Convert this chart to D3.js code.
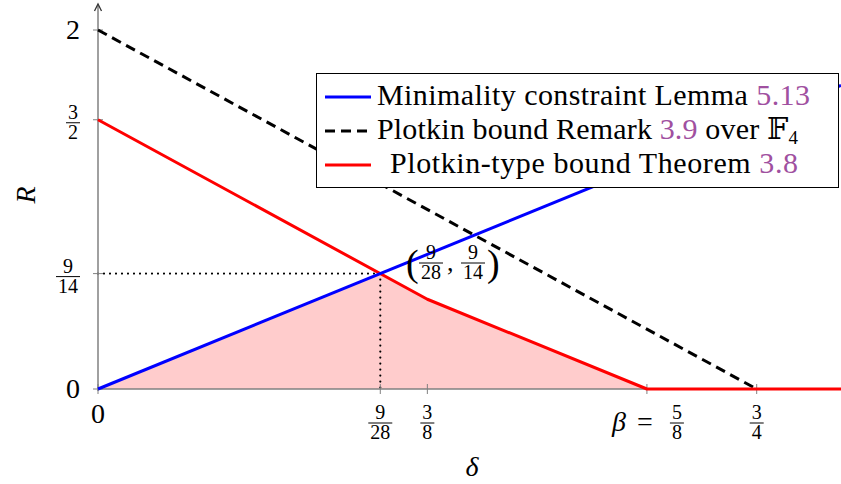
<!DOCTYPE html>
<html>
<head>
<meta charset="utf-8">
<script src="https://cdn.jsdelivr.net/npm/d3@7"></script>
<style>
  body { margin: 0; background: #fff; }
  text { font-family: "Liberation Serif", "DejaVu Serif", serif; fill: #000; }
</style>
</head>
<body>
<div id="chart"></div>
<script>

// data
var deltaMax = 0.846;
var minimality = [[0, 0], [0.846, 1.692]];               // R = 2 delta
var plotkinF4 = [[0, 2], [0.75, 0]];                      // R = 2 - 8/3 delta
var plotkinType = [[0, 1.5], [0.375, 0.5], [0.625, 0], [0.846, 0]];
var feasible = [[0, 0], [9/28, 9/14], [0.375, 0.5], [0.625, 0]];
var xTicks = [0, 9/28, 3/8, 5/8, 3/4];
var xTickLabels = [["0"], ["9", "28"], ["3", "8"], ["5", "8", "β"], ["3", "4"]];
var yTicks = [0, 9/14, 3/2, 2];
var yTickLabels = [["0"], ["9", "14"], ["3", "2"], ["2"]];
var legendNames = [
  ["Minimality constraint Lemma ", "5.13", ""],
  ["Plotkin bound Remark ", "3.9", " over 𝔽"],
  ["Plotkin-type bound Theorem ", "3.8", ""]
];
var legendColors = ["#0000ff", "#000000", "#ff0000"];
var legendStart = [377, 377, 390];
var legendWidth = [433, 421, 408];
var intersect = [9/28, 9/14];

var W = 841, H = 484;
var svg = d3.select("#chart").append("svg")
  .attr("width", W).attr("height", H);

var x = d3.scaleLinear().domain([0, deltaMax]).range([98, 841]);
var y = d3.scaleLinear().domain([0, 2]).range([389, 30]);

var line = d3.line().x(function(d) { return x(d[0]) }).y(function(d) { return y(d[1]) });

// fill
svg.append("path")
  .datum(feasible)
  .attr("fill", "#ffcccc")
  .attr("d", line);

// dotted guides
svg.append("line")
  .attr("x1", x(0)).attr("x2", x(intersect[0]))
  .attr("y1", y(intersect[1])).attr("y2", y(intersect[1]))
  .attr("stroke", "#000").attr("stroke-width", 2.2)
  .attr("stroke-dasharray", "0 6").attr("stroke-linecap", "round");
svg.append("line")
  .attr("x1", x(intersect[0])).attr("x2", x(intersect[0]))
  .attr("y1", y(intersect[1])).attr("y2", y(0))
  .attr("stroke", "#000").attr("stroke-width", 2.2)
  .attr("stroke-dasharray", "0 6").attr("stroke-linecap", "round");

// axes
var gray = "#808080";
svg.append("line")
  .attr("x1", x(0)).attr("x2", 841).attr("y1", y(0)).attr("y2", y(0))
  .attr("stroke", gray).attr("stroke-width", 1.5);
svg.append("line")
  .attr("x1", x(0)).attr("x2", x(0)).attr("y1", y(0) + 2).attr("y2", 6)
  .attr("stroke", gray).attr("stroke-width", 1.5);
svg.append("path")
  .attr("d", "M" + (x(0) - 3.5) + ",11 L" + x(0) + ",4 L" + (x(0) + 3.5) + ",11")
  .attr("fill", "none").attr("stroke", "#333").attr("stroke-width", 1.3);

function frac(g, cx, cy, num, den, fs) {
  var w = Math.max(num.length, den.length) * fs * 0.5 + 4;
  g.append("text").attr("x", cx).attr("y", cy - 4).attr("text-anchor", "middle")
    .attr("font-size", fs).text(num);
  g.append("line").attr("x1", cx - w / 2).attr("x2", cx + w / 2)
    .attr("y1", cy).attr("y2", cy).attr("stroke", "#000").attr("stroke-width", 1);
  g.append("text").attr("x", cx).attr("y", cy + fs * 0.72 + 2).attr("text-anchor", "middle")
    .attr("font-size", fs).text(den);
}

// x ticks
xTicks.forEach(function(t, i) {
  svg.append("line")
    .attr("x1", x(t)).attr("x2", x(t)).attr("y1", y(0) - 5).attr("y2", y(0) + 5)
    .attr("stroke", gray).attr("stroke-width", 1);
  var lab = xTickLabels[i];
  if (lab.length == 1) {
    svg.append("text").attr("x", x(t)).attr("y", 423).attr("text-anchor", "middle")
      .attr("font-size", 28).text(lab[0]);
  } else if (lab.length == 2) {
    frac(svg, x(t), 423, lab[0], lab[1], 20);
  } else {
    frac(svg, x(t) + 30, 423, lab[0], lab[1], 20);
    svg.append("text").attr("x", x(t) - 35).attr("y", 431)
      .attr("font-size", 28).attr("font-style", "italic").text(lab[2]);
    svg.append("text").attr("x", x(t) - 10).attr("y", 431)
      .attr("font-size", 28).text("=");
  }
});

// y ticks
yTicks.forEach(function(t, i) {
  svg.append("line")
    .attr("x1", x(0) - 5).attr("x2", x(0) + 5).attr("y1", y(t)).attr("y2", y(t))
    .attr("stroke", gray).attr("stroke-width", 1);
  var lab = yTickLabels[i];
  if (lab.length == 1) {
    svg.append("text").attr("x", 73).attr("y", y(t) + 9).attr("text-anchor", "middle")
      .attr("font-size", 28).text(lab[0]);
  } else {
    frac(svg, lab[1].length > 1 ? 68 : 73, y(t) + 3, lab[0], lab[1], 20);
  }
});

// series
svg.append("path").datum(plotkinF4)
  .attr("fill", "none").attr("stroke", "#000").attr("stroke-width", 3)
  .attr("stroke-dasharray", "10 6").attr("d", line);
svg.append("path").datum(plotkinType)
  .attr("fill", "none").attr("stroke", "#ff0000").attr("stroke-width", 3)
  .attr("stroke-linejoin", "round").attr("d", line);
svg.append("path").datum(minimality)
  .attr("fill", "none").attr("stroke", "#0000ff").attr("stroke-width", 3)
  .attr("d", line);

// point label
var py = 263;
svg.append("text").attr("x", 406).attr("y", 276).attr("font-size", 38).text("(");
frac(svg, 431, py, "9", "28", 20);
svg.append("text").attr("x", 447).attr("y", 271).attr("font-size", 26).text(",");
frac(svg, 473, py, "9", "14", 20);
svg.append("text").attr("x", 487).attr("y", 276).attr("font-size", 38).text(")");

// axis titles
svg.append("text").attr("x", 472).attr("y", 476).attr("text-anchor", "middle")
  .attr("font-size", 28).attr("font-style", "italic").text("δ");
svg.append("text").attr("transform", "translate(35,195) rotate(-90)")
  .attr("text-anchor", "middle").attr("font-size", 28).attr("font-style", "italic").text("R");

// legend
var lg = svg.append("g");
lg.append("rect").attr("x", 316.5).attr("y", 73.5).attr("width", 522).attr("height", 114)
  .attr("fill", "#fff").attr("stroke", "#000").attr("stroke-width", 1);
legendNames.forEach(function(n, i) {
  var cy = 97 + i * 34;
  lg.append("line").attr("x1", 325).attr("x2", 371).attr("y1", cy).attr("y2", cy)
    .attr("stroke", legendColors[i]).attr("stroke-width", 3)
    .attr("stroke-dasharray", i == 1 ? "10 6" : null);
  var t = lg.append("text").attr("x", legendStart[i]).attr("y", cy + 8).attr("font-size", 30)
    .attr("textLength", legendWidth[i]).attr("lengthAdjust", "spacing")
    .style("white-space", "pre");
  t.append("tspan").text(n[0]);
  t.append("tspan").attr("fill", "#a050a0").text(n[1]);
  if (n[2]) {
    t.append("tspan").text(n[2]);
    t.append("tspan").attr("font-size", 19).attr("dy", 5).text("4");
  }
});

</script>
</body>
</html>
